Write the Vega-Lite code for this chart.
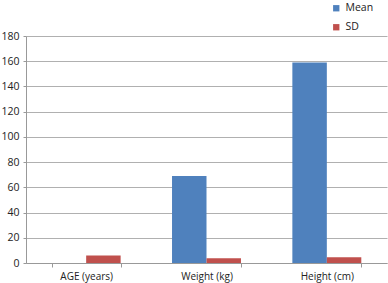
{
  "$schema": "https://vega.github.io/schema/vega-lite/v6.json",
  "width": 361,
  "height": 227,
  "autosize": "none",
  "padding": {"left": 26, "top": 36, "right": 1, "bottom": 20},
  "background": "white",
  "config": {"view": {"stroke": null}, "font": "Open Sans"},
  "data": {"values": [
    {"cat": "AGE (years)", "stat": "Mean", "value": 0},
    {"cat": "AGE (years)", "stat": "SD", "value": 5.9},
    {"cat": "Weight (kg)", "stat": "Mean", "value": 69},
    {"cat": "Weight (kg)", "stat": "SD", "value": 3.7},
    {"cat": "Height (cm)", "stat": "Mean", "value": 159},
    {"cat": "Height (cm)", "stat": "SD", "value": 4.5}
  ]},
  "mark": {"type": "bar"},
  "encoding": {
    "x": {"field": "cat", "type": "nominal", "sort": ["AGE (years)", "Weight (kg)", "Height (cm)"],
      "scale": {"paddingInner": 0.427, "paddingOuter": 0.2135},
      "axis": {"title": null, "labelAngle": 0, "labelFontSize": 10, "labelColor": "#222", "tickBand": "extent", "tickColor": "#999", "tickSize": 4, "domainColor": "#999", "labelPadding": 4}},
    "xOffset": {"field": "stat", "type": "nominal", "sort": ["Mean", "SD"]},
    "y": {"field": "value", "type": "quantitative",
      "scale": {"domain": [0, 180], "nice": false},
      "axis": {"title": null, "values": [0,20,40,60,80,100,120,140,160,180], "labelFontSize": 10.5, "labelColor": "#222", "gridColor": "#b0b0b0", "domainColor": "#999", "tickColor": "#999", "tickSize": 3, "labelPadding": 4}},
    "color": {"field": "stat", "type": "nominal",
      "scale": {"domain": ["Mean", "SD"], "range": ["#4F81BD", "#C0504D"]},
      "legend": {"title": null, "orient": "none", "legendX": 305, "legendY": -33, "symbolType": "square", "symbolSize": 40, "labelFontSize": 10.5, "labelColor": "#222", "rowPadding": 8, "symbolStrokeWidth": 0}}
  }
}
